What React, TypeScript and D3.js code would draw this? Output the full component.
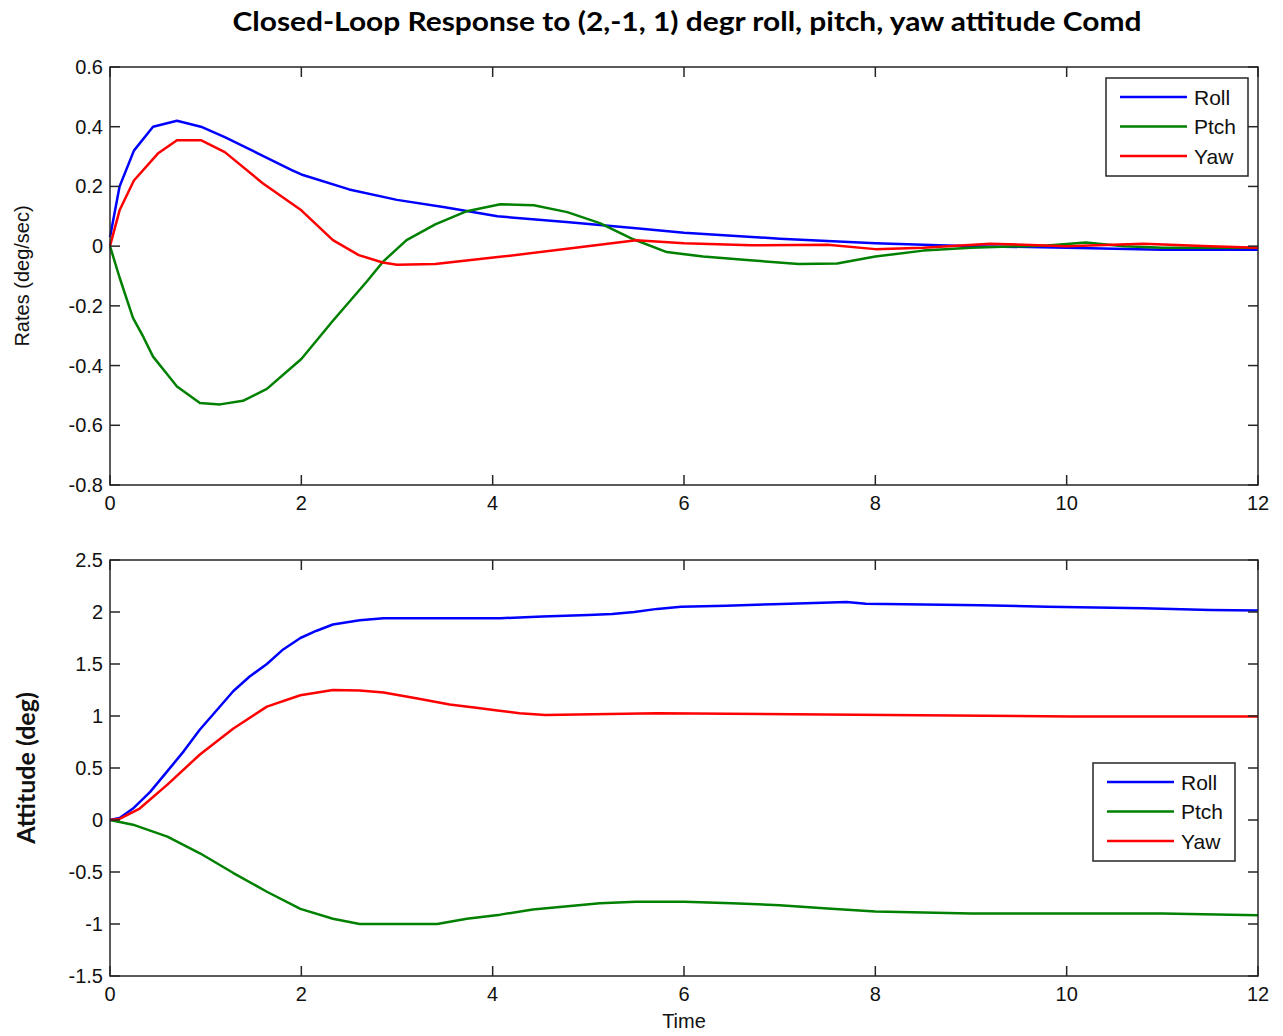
import * as d3 from "d3";

// chart title and labels
const title = "Closed-Loop Response to (2,-1, 1) degr roll, pitch, yaw attitude Comd";
const seriesNames = ["Roll", "Ptch", "Yaw"];
const seriesColors = ["#0000ff", "#008000", "#ff0000"];

// tick values
const timeTicks = [0, 2, 4, 6, 8, 10, 12];
const rateTicks = [-0.8, -0.6, -0.4, -0.2, 0, 0.2, 0.4, 0.6];
const attTicks = [-1.5, -1, -0.5, 0, 0.5, 1, 1.5, 2, 2.5];

// rates (deg/sec), [time, value]
const rollRate = [
  [0, 0.03], [0.1, 0.2], [0.25, 0.32], [0.45, 0.4], [0.7, 0.42], [0.95, 0.4],
  [1.2, 0.365], [1.55, 0.31], [1.9, 0.255], [2.0, 0.24], [2.5, 0.19], [3.0, 0.155],
  [3.5, 0.13], [4.05, 0.1], [4.8, 0.08], [5.5, 0.06], [6, 0.045], [7, 0.025],
  [8, 0.01], [9, 0.0], [10, -0.005], [11, -0.012], [12, -0.012],
];
const ptchRate = [
  [0, 0], [0.1, -0.105], [0.24, -0.24], [0.35, -0.305], [0.45, -0.37], [0.6, -0.43],
  [0.7, -0.47], [0.94, -0.525], [1.15, -0.53], [1.39, -0.518], [1.64, -0.478],
  [2.0, -0.378], [2.33, -0.25], [2.68, -0.12], [2.86, -0.05], [3.1, 0.02],
  [3.4, 0.073], [3.73, 0.117], [4.08, 0.14], [4.43, 0.137], [4.78, 0.114],
  [5.12, 0.077], [5.47, 0.023], [5.82, -0.02], [6.2, -0.035], [6.69, -0.047],
  [7.2, -0.06], [7.6, -0.058], [8.0, -0.035], [8.5, -0.015], [9.0, -0.005],
  [9.8, 0.002], [10.2, 0.012], [10.6, 0.0], [11, -0.005], [12, -0.005],
];
const yawRate = [
  [0, 0], [0.1, 0.12], [0.25, 0.22], [0.5, 0.31], [0.7, 0.355], [0.95, 0.355],
  [1.2, 0.315], [1.6, 0.21], [2.0, 0.12], [2.33, 0.02], [2.6, -0.03], [2.85, -0.055],
  [3.0, -0.062], [3.4, -0.06], [4.1, -0.035], [4.8, -0.008], [5.5, 0.02], [6.0, 0.01],
  [6.7, 0.003], [7.5, 0.005], [8.0, -0.01], [8.5, -0.005], [9.2, 0.008], [10, 0],
  [10.8, 0.008], [11.5, 0.0], [12, -0.005],
];

// attitude (deg), [time, value]
const rollAtt = [
  [0, 0], [0.1, 0.02], [0.24, 0.11], [0.42, 0.27], [0.6, 0.47], [0.77, 0.66],
  [0.94, 0.87], [1.12, 1.06], [1.29, 1.24], [1.46, 1.38], [1.64, 1.5], [1.81, 1.64],
  [1.99, 1.75], [2.16, 1.82], [2.33, 1.88], [2.61, 1.92], [2.86, 1.94], [4.08, 1.94],
  [4.52, 1.957], [5.0, 1.97], [5.25, 1.98], [5.48, 2.0], [5.72, 2.03], [5.97, 2.05],
  [6.44, 2.06], [6.93, 2.075], [7.7, 2.095], [7.9, 2.08], [9.1, 2.065], [9.8, 2.05],
  [10.8, 2.035], [11.5, 2.02], [12, 2.015],
];
const ptchAtt = [
  [0, 0], [0.24, -0.045], [0.6, -0.16], [0.94, -0.32], [1.29, -0.51], [1.64, -0.69],
  [1.99, -0.855], [2.33, -0.95], [2.61, -1.0], [3.42, -1.0], [3.73, -0.95],
  [4.08, -0.91], [4.42, -0.86], [5.12, -0.8], [5.5, -0.785], [6, -0.785],
  [6.5, -0.8], [7, -0.82], [7.5, -0.85], [8, -0.88], [9, -0.9], [10, -0.9],
  [11, -0.9], [12, -0.915],
];
const yawAtt = [
  [0, 0], [0.1, 0.01], [0.31, 0.11], [0.6, 0.34], [0.94, 0.63], [1.29, 0.88],
  [1.64, 1.09], [1.99, 1.2], [2.33, 1.25], [2.61, 1.245], [2.86, 1.225], [3.2, 1.17],
  [3.55, 1.11], [3.87, 1.075], [4.05, 1.053], [4.28, 1.027], [4.55, 1.01],
  [5.72, 1.027], [8.13, 1.01], [10.06, 0.995], [12, 0.995],
];

const W = 1283;
const H = 1036;
const left = 110;
const right = 1258;
const axisColor = "#262626";
const tickFont = "'Liberation Sans', Arial, sans-serif";

function Panel({ top, bottom, domain, ticks, series, yLabel, yBold, legend, xLabel }) {
  const x = d3.scaleLinear().domain([0, 12]).range([left, right]);
  const y = d3.scaleLinear().domain(domain).range([bottom, top]);
  const line = d3.line().x((d) => x(d[0])).y((d) => y(d[1]));
  const tl = 10;
  return (
    <g>
      {series.map((s, i) => (
        <path key={i} d={line(s)} fill="none" stroke={seriesColors[i]} strokeWidth={2.5} strokeLinejoin="round" />
      ))}
      <rect x={left} y={top} width={right - left} height={bottom - top} fill="none" stroke={axisColor} strokeWidth={1.5} />
      {timeTicks.map((t) => (
        <g key={"x" + t}>
          <line x1={x(t)} x2={x(t)} y1={bottom} y2={bottom - tl} stroke={axisColor} strokeWidth={1.5} />
          <line x1={x(t)} x2={x(t)} y1={top} y2={top + tl} stroke={axisColor} strokeWidth={1.5} />
          <text x={x(t)} y={bottom + 25} textAnchor="middle" fontSize={20} fontFamily={tickFont} fill="#111">{t}</text>
        </g>
      ))}
      {ticks.map((v) => (
        <g key={"y" + v}>
          <line x1={left} x2={left + tl} y1={y(v)} y2={y(v)} stroke={axisColor} strokeWidth={1.5} />
          <line x1={right} x2={right - tl} y1={y(v)} y2={y(v)} stroke={axisColor} strokeWidth={1.5} />
          <text x={left - 7} y={y(v) + 7} textAnchor="end" fontSize={20} fontFamily={tickFont} fill="#111">{String(v)}</text>
        </g>
      ))}
      <text
        transform={`translate(${yBold ? 35 : 29},${(top + bottom) / 2}) rotate(-90)`}
        textAnchor="middle"
        fontSize={yBold ? 25 : 20}
        fontWeight={yBold ? "bold" : "normal"}
        fontFamily={yBold ? "Lato, 'Open Sans', sans-serif" : tickFont}
        fill="#111"
      >
        {yLabel}
      </text>
      {xLabel && (
        <text x={(left + right) / 2} y={bottom + 52} textAnchor="middle" fontSize={20} fontFamily={tickFont} fill="#111">{xLabel}</text>
      )}
      <g transform={`translate(${legend[0]},${legend[1]})`}>
        <rect x={0} y={0} width={142} height={98} fill="#fff" stroke={axisColor} strokeWidth={1.5} />
        {seriesNames.map((n, i) => (
          <g key={n}>
            <line x1={14} x2={81} y1={19 + i * 29.5} y2={19 + i * 29.5} stroke={seriesColors[i]} strokeWidth={2.5} />
            <text x={88} y={26.5 + i * 29.5} fontSize={21} fontFamily={tickFont} fill="#111">{n}</text>
          </g>
        ))}
      </g>
    </g>
  );
}

export default function App() {
  return (
    <svg width={W} height={H} style={{ display: "block", margin: "-8px", background: "#fff" }}>
      <rect width={W} height={H} fill="#fff" />
      <text x={687} y={31} textAnchor="middle" fontSize={26} fontWeight="bold" fontFamily="Lato, 'Open Sans', sans-serif" textLength={909} lengthAdjust="spacingAndGlyphs" fill="#000">
        {title}
      </text>
      <Panel
        top={67}
        bottom={485}
        domain={[-0.8, 0.6]}
        ticks={rateTicks}
        series={[rollRate, ptchRate, yawRate]}
        yLabel="Rates (deg/sec)"
        yBold={false}
        legend={[1106, 78]}
      />
      <Panel
        top={560}
        bottom={976}
        domain={[-1.5, 2.5]}
        ticks={attTicks}
        series={[rollAtt, ptchAtt, yawAtt]}
        yLabel="Attitude (deg)"
        yBold={true}
        legend={[1093, 763]}
        xLabel="Time"
      />
    </svg>
  );
}
